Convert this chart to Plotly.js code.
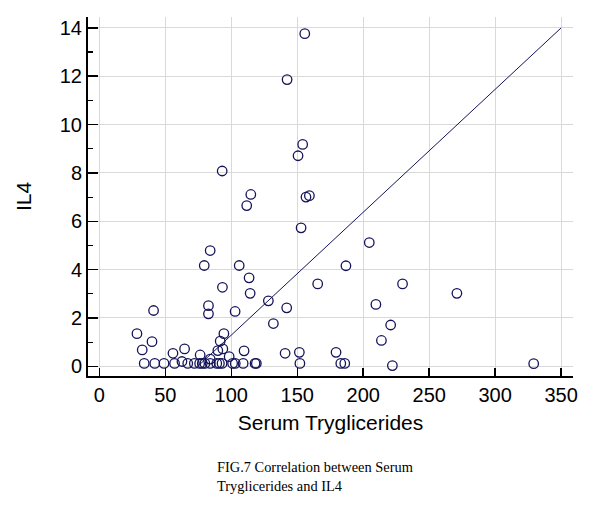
<!DOCTYPE html>
<html>
<head>
<meta charset="utf-8">
<script src="https://cdn.plot.ly/plotly-3.0.1.min.js"></script>
<style>html,body{margin:0;padding:0;background:#fff;}#chart{width:600px;height:505px;}</style>
</head>
<body>
<div id="chart"></div>
<script>
// Serum Tryglicerides (x) and IL4 (y)
const triglycerides = [
  34, 42, 49, 57, 62.6, 67, 72, 76, 78, 80, 84, 89, 91, 93, 101, 103, 109, 118, 119, 152, 183, 186,
  28.5, 32.5, 39.9, 41.1, 55.8, 64.6, 76.4, 79.5, 82.7, 82.7, 84.0, 84, 89.8, 93.6,
  91.6, 93.1, 93.3, 94.4, 98.4, 102.9, 106.0, 109.7, 111.7, 113.5, 114.3, 114.8,
  128.1, 131.9, 140.8, 142.0, 142.3, 150.6, 151.6, 152.9, 154.1, 155.7, 156.6, 159.2,
  165.5, 179.4, 186.9, 204.6, 209.6, 213.8, 220.8, 222.1, 229.8, 271, 329.2
];
const il4 = [
  0.12, 0.12, 0.12, 0.12, 0.2, 0.12, 0.12, 0.12, 0.12, 0.12, 0.12, 0.12, 0.12, 0.12, 0.12, 0.12, 0.12, 0.12, 0.12, 0.12, 0.12, 0.12,
  1.35, 0.68, 1.02, 2.31, 0.54, 0.72, 0.47, 4.17, 2.51, 2.17, 4.79, 0.3, 0.65, 0.72,
  1.04, 8.08, 3.27, 1.35, 0.4, 2.27, 4.17, 0.64, 6.65, 3.66, 3.02, 7.11,
  2.71, 1.77, 0.54, 2.42, 11.86, 8.71, 0.58, 5.73, 9.18, 13.76, 7.0, 7.06,
  3.41, 0.58, 4.16, 5.12, 2.56, 1.07, 1.71, 0.03, 3.41, 3.02, 0.11
];
// regression line end points
const fitX = [74.6, 350];
const fitY = [0, 14];

const xTicks = [0, 50, 100, 150, 200, 250, 300, 350];
const yTicks = [0, 2, 4, 6, 8, 10, 12, 14];

const navy = '#14145a';
const data = [
  {
    x: fitX, y: fitY, type: 'scatter', mode: 'lines',
    line: {color: navy, width: 1}, hoverinfo: 'skip', showlegend: false
  },
  {
    x: triglycerides, y: il4, type: 'scatter', mode: 'markers',
    marker: {symbol: 'circle-open', size: 9.5, color: navy, line: {width: 1.3, color: navy}},
    showlegend: false
  }
];

const sans = 'Liberation Sans, Arial, sans-serif';
const axisFont = {family: sans, size: 20, color: '#000'};
const layout = {
  width: 600, height: 505,
  paper_bgcolor: '#fff', plot_bgcolor: '#fff',
  margin: {l: 88, r: 27, t: 17, b: 129},
  showlegend: false,
  xaxis: {
    range: [-8.6, 359], tickvals: xTicks, ticktext: xTicks.map(String),
    showgrid: true, gridcolor: '#d9d9d9', gridwidth: 1, zeroline: false,
    showline: true, linecolor: '#000', linewidth: 2,
    ticks: 'inside', ticklen: 8, tickwidth: 1.5, tickcolor: '#000',
    tickfont: axisFont,
    title: {text: 'Serum Tryglicerides', font: {family: sans, size: 21, color: '#000'}, standoff: 10}
  },
  yaxis: {
    range: [-0.4, 14.45], tickvals: yTicks, ticktext: yTicks.map(String),
    showgrid: true, gridcolor: '#d9d9d9', gridwidth: 1, zeroline: false,
    showline: true, linecolor: '#000', linewidth: 2,
    ticks: 'inside', ticklen: 10, tickwidth: 1.5, tickcolor: '#000',
    minor: {tickvals: [1, 3, 5, 7, 9, 11, 13], ticks: 'inside', ticklen: 5, tickwidth: 1.2, tickcolor: '#000', showgrid: false},
    tickfont: axisFont,
    title: {text: 'IL4', font: {family: sans, size: 21, color: '#000'}, standoff: 22}
  },
  annotations: [
    {
      text: 'FIG.7 Correlation between Serum<br>Tryglicerides and IL4',
      xref: 'paper', yref: 'paper', x: (215 - 88) / 485, y: -0.225,
      xanchor: 'left', yanchor: 'top', align: 'left', showarrow: false,
      font: {family: 'Liberation Serif, Times New Roman, serif', size: 14.4, color: '#000'}
    }
  ]
};

Plotly.newPlot('chart', data, layout, {displayModeBar: false, staticPlot: true});
</script>
</body>
</html>
